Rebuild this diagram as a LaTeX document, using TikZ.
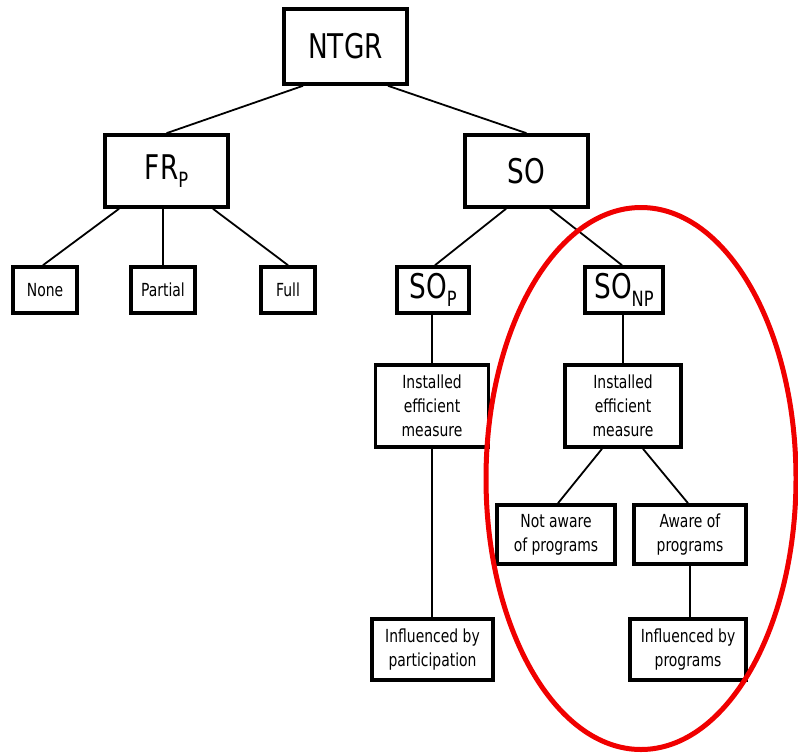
\documentclass[tikz,border=0pt]{standalone}
\usepackage{fontspec}
\setmainfont{DejaVu Sans Condensed}[FakeStretch=0.86]
\usetikzlibrary{calc}
\newcommand{\subP}[1]{\raisebox{-0.24em}{\fontsize{21}{21}\selectfont #1}}
\tikzset{
  box/.style={draw=black, line width=3.6pt, fill=white, inner sep=0pt, align=center},
  bigbox/.style={box, font=\fontsize{34}{34}\selectfont},
  smallbox/.style={box, font=\fontsize{18}{24}\selectfont},
  conn/.style={draw=black, line width=1.8pt},
  ring/.style={draw={rgb,255:red,240;green,0;blue,0}, line width=5pt}
}
\begin{document}
\begin{tikzpicture}[x=1pt, y=-1pt]
\useasboundingbox (0,0) rectangle (798,753);
% nodes
\node[bigbox, minimum width=123pt, minimum height=75pt] (ntgr) at (345.5,46.5) {NTGR};
\node[bigbox, minimum width=123pt, minimum height=72pt] (fr) at (166.5,171) {FR\subP{P}};
\node[bigbox, minimum width=123pt, minimum height=72pt] (so) at (526.5,171) {SO};
\node[smallbox, minimum width=64pt, minimum height=46pt] (none) at (45,290) {None};
\node[smallbox, minimum width=64pt, minimum height=46pt] (partial) at (163,290) {Partial};
\node[smallbox, minimum width=54pt, minimum height=46pt] (full) at (288,290) {Full};
\node[bigbox, minimum width=72pt, minimum height=46pt] (sop) at (433,290) {SO\subP{P}};
\node[bigbox, minimum width=78pt, minimum height=46pt] (sonp) at (624,290) {SO\subP{NP}};
\node[smallbox, minimum width=113pt, minimum height=82pt] (instl) at (432,406) {Installed\\efficient\\measure};
\node[smallbox, minimum width=116pt, minimum height=82pt] (instr) at (623,406) {Installed\\efficient\\measure};
\node[smallbox, minimum width=118pt, minimum height=59pt] (notaware) at (556,534.5) {Not aware\\of programs};
\node[smallbox, minimum width=112pt, minimum height=59pt] (aware) at (690,534.5) {Aware of\\programs};
\node[smallbox, minimum width=121pt, minimum height=61pt] (infll) at (432.5,649.5) {Influenced by\\participation};
\node[smallbox, minimum width=116pt, minimum height=61pt] (inflr) at (688,649.5) {Influenced by\\programs};
% connectors
\draw[conn] ([xshift=-42.5pt]ntgr.south) -- (fr.north);
\draw[conn] ([xshift=42.5pt]ntgr.south) -- (so.north);
\draw[conn] ([xshift=-47.5pt]fr.south) -- ([xshift=-2pt]none.north);
\draw[conn] (fr.south -| partial.north) -- (partial.north);
\draw[conn] ([xshift=46.5pt]fr.south) -- (full.north);
\draw[conn] ([xshift=-20.5pt]so.south) -- ([xshift=2pt]sop.north);
\draw[conn] ([xshift=23.5pt]so.south) -- ([xshift=-2pt]sonp.north);
\draw[conn] ([xshift=-1pt]sop.south) -- ([xshift=-1pt]sop.south |- instl.north);
\draw[conn] (instl.south) -- (instl.south |- infll.north);
\draw[conn] ([xshift=-1pt]sonp.south) -- ([xshift=-1pt]sonp.south |- instr.north);
\draw[conn] ([xshift=-21pt]instr.south) -- ([xshift=2pt]notaware.north);
\draw[conn] ([xshift=20pt]instr.south) -- ([xshift=-2pt]aware.north);
\draw[conn] (aware.south) -- (aware.south |- inflr.north);
% highlight ellipse
\draw[ring] (641,478.5) ellipse [x radius=155pt, y radius=271pt];
\end{tikzpicture}
\end{document}
